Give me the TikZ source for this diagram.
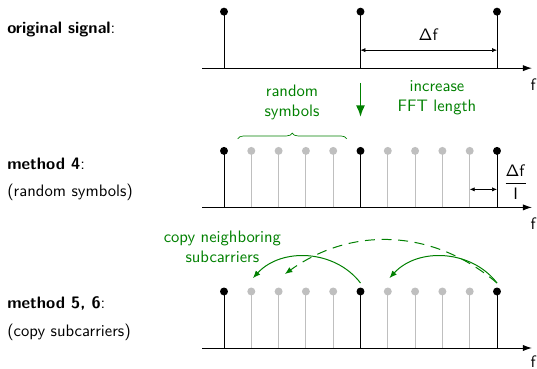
\documentclass[tikz,border=0pt]{standalone}
\usepackage{amsmath}
\usepackage{tikz}
\usetikzlibrary{arrows.meta,decorations.pathreplacing}
\renewcommand{\familydefault}{\sfdefault}
\colorlet{methodgreen}{green!50!black}
\colorlet{addgray}{black!25}
\tikzset{
    blackdot/.style={circle,fill=black,inner sep=0pt,minimum size=4.8pt},
    graydot/.style={circle,fill=addgray,inner sep=0pt,minimum size=4.8pt},
    freqaxis/.style={semithick,-{Latex[length=5.5pt,width=3.8pt]}},
    spacing/.style={thin,{Latex[length=3pt,width=2.6pt]}-{Latex[length=3pt,width=2.6pt]}},
    copyarrow/.style={methodgreen,semithick,-{Latex[length=4.5pt,width=3.6pt]}},
    greentext/.style={methodgreen,align=center}
}

\begin{document}
\begin{tikzpicture}[x=0.578cm,y=0.578cm]
    \useasboundingbox (-8.205,-0.769) rectangle (11.465,12.747);
    %%original_signal
    \draw[freqaxis] (-0.8,10.25) -- (11.28,10.25);
    \node[inner sep=1pt] (f1) at (11.32,9.66) {f};
    \draw[semithick] (0,10.25) -- (0,12.32) node[blackdot] (d1-0) {};
    \draw[semithick] (5,10.25) -- (5,12.32) node[blackdot] (d1-5) {};
    \draw[semithick] (10,10.25) -- (10,12.32) node[blackdot] (d1-10) {};
    \coordinate (df1l) at (5,10.91);
    \coordinate (df1r) at (10,10.91);
    \draw[spacing] (df1l) -- (df1r) node[midway,above=2pt] (df1) {$\mathsf{\Delta f}$};
    \node[anchor=west,inner sep=0pt] (lbl1) at (-7.95,11.68) {\textbf{original signal}:};
    %%increase_fft
    \coordinate (down1) at (5,9.71);
    \coordinate (down2) at (5,8.46);
    \draw[methodgreen,very thick,-{Latex[length=7pt,width=5.5pt]}] (down1) -- (down2);
    \node[greentext] (rnd) at (2.49,8.99) {random\\symbols};
    \node[greentext] (fft) at (7.8,9.18) {increase\\FFT length};
    \draw[methodgreen,thin,decorate,decoration={brace,amplitude=3.5pt}] (0.5,7.66) -- (4.5,7.66);
    %%method_4
    \draw[freqaxis] (-0.8,5.15) -- (11.28,5.15);
    \node[inner sep=1pt] (f2) at (11.32,4.55) {f};
    \foreach \k in {1,2,3,4,6,7,8,9}
        \draw[semithick,addgray] (\k,5.15) -- (\k,7.22) node[graydot] (d2-\k) {};
    \draw[semithick] (0,5.15) -- (0,7.22) node[blackdot] (d2-0) {};
    \draw[semithick] (5,5.15) -- (5,7.22) node[blackdot] (d2-5) {};
    \draw[semithick] (10,5.15) -- (10,7.22) node[blackdot] (d2-10) {};
    \coordinate (df2l) at (9,5.81);
    \coordinate (df2r) at (10,5.81);
    \draw[spacing] (df2l) -- (df2r);
    \node (df2) at (10.68,6.08) {$\displaystyle\frac{\mathsf{\Delta f}}{\mathsf{I}}$};
    \node[anchor=west,inner sep=0pt] (lbl2) at (-7.95,6.74) {\textbf{method 4}:};
    \node[anchor=west,inner sep=0pt] (lbl2b) at (-7.95,5.71) {(random symbols)};
    %%method_5_6
    \draw[freqaxis] (-0.8,0) -- (11.28,0);
    \node[inner sep=1pt] (f3) at (11.32,-0.5) {f};
    \foreach \k in {1,2,3,4,6,7,8,9}
        \draw[semithick,addgray] (\k,0) -- (\k,2.07) node[graydot] (d3-\k) {};
    \draw[semithick] (0,0) -- (0,2.07) node[blackdot] (d3-0) {};
    \draw[semithick] (5,0) -- (5,2.07) node[blackdot] (d3-5) {};
    \draw[semithick] (10,0) -- (10,2.07) node[blackdot] (d3-10) {};
    \coordinate (s5) at (5,2.38);
    \coordinate (s10) at (10,2.38);
    \coordinate (t1) at (1.06,2.56);
    \coordinate (t2) at (2.23,2.71);
    \coordinate (t6) at (6.06,2.56);
    \draw[copyarrow] (s5) to[bend right=50] (t1);
    \draw[copyarrow] (s10) to[bend right=50] (t6);
    \draw[copyarrow,dashed,dash pattern=on 6pt off 4pt] (s10) to[bend right=38] (t2);
    \node[greentext] (cpy) at (-0.06,3.72) {copy neighboring\\subcarriers};
    \node[anchor=west,inner sep=0pt] (lbl3) at (-7.95,1.65) {\textbf{method 5, 6}:};
    \node[anchor=west,inner sep=0pt] (lbl3b) at (-7.95,0.59) {(copy subcarriers)};
\end{tikzpicture}
\end{document}
